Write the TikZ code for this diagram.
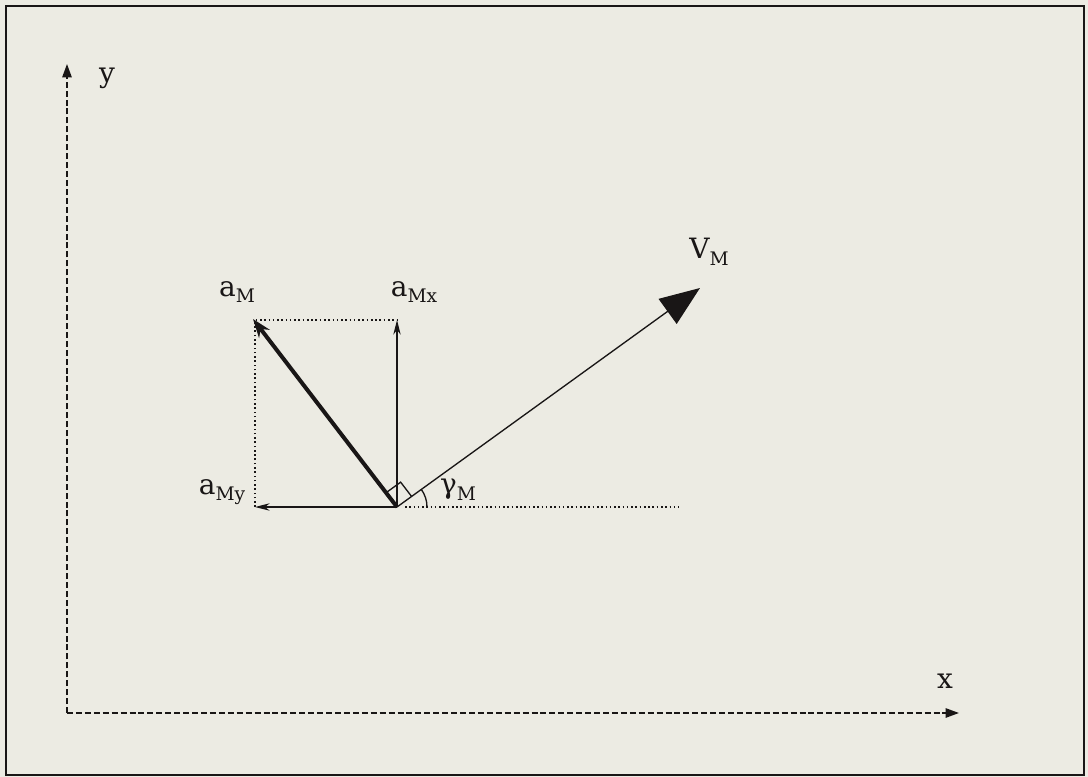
\documentclass[tikz,border=0pt]{standalone}
\usepackage{fontspec}
\setmainfont{DejaVu Serif}
\usetikzlibrary{arrows.meta,calc}
\definecolor{paper}{RGB}{236,235,227}
\definecolor{ink}{RGB}{25,22,22}
\newcommand{\lsub}[1]{\raisebox{-0.45ex}{\fontsize{14}{14}\selectfont #1}}
\begin{document}
\begin{tikzpicture}[x=0.75pt,y=-0.75pt,
  lbl/.style={inner sep=0pt,text=ink,font=\fontsize{21}{21}\selectfont},
  axis/.style={draw=ink,line width=1.2pt,dash pattern=on 4.5pt off 2.2pt,-{Triangle[length=10pt,width=7pt]}},
  guide/.style={draw=ink,line width=1pt,dash pattern=on 1.2pt off 2pt},
  thin vec/.style={draw=ink,line width=1pt,-{Stealth[length=11pt,width=5.5pt]}},
  thick vec/.style={draw=ink,line width=3pt,-{Stealth[length=14pt,width=10pt]}},
  vel vec/.style={draw=ink,line width=1pt,-{Triangle[length=30pt,width=23pt]}},
  anglemark/.style={draw=ink,line width=1pt}]
\useasboundingbox (0,0) rectangle (1088,777);
\fill[paper] (0,0) rectangle (1088,777);
\draw[ink,line width=1.6pt] (6,6) rectangle (1084,775);
% axes
\coordinate (corner) at (67,713);
\coordinate (ytip) at (67,64);
\coordinate (xtip) at (959,713);
\draw[axis] (corner) -- (ytip);
\draw[axis] (corner) -- (xtip);
\node[lbl] (ylab) at (107,78) {y};
\node[lbl] (xlab) at (945,681) {x};
% vectors
\coordinate (O) at (397,507);
\coordinate (aM) at (253,319);
\coordinate (aMx) at (397,320);
\coordinate (aMy) at (255,507);
\coordinate (VM) at (700,288);
\coordinate (hend) at (679,507);
\coordinate (rc) at (255,320);
\draw[guide] (aMy) -- (rc) -- (aMx);
\draw[guide] ($(O)+(8,0)$) -- (hend);
\draw[thin vec] (O) -- (aMx);
\draw[thin vec] (O) -- (aMy);
\draw[thick vec] (O) -- (aM);
\draw[vel vec] (O) -- (VM);
% right angle mark
\coordinate (p1) at ($(O)!13.5pt!(aM)$);
\coordinate (p2) at ($(O)!13.5pt!(VM)$);
\draw[anglemark] (p1) -- ($(p1)+(p2)-(O)$) -- (p2);
% gamma arc
\draw[anglemark] ($(O)+(30,0)$) arc[start angle=0,end angle=-36,radius=30];
% labels
\node[lbl] (laM) at (237,292) {a\lsub{M}};
\node[lbl] (laMx) at (414,292) {a\lsub{Mx}};
\node[lbl] (laMy) at (222,492) {a\lsub{My}};
\node[lbl] (lVM) at (709,252) {V\lsub{M}};
\node[lbl] (lg) at (458,490) {γ\lsub{M}};
\end{tikzpicture}
\end{document}
